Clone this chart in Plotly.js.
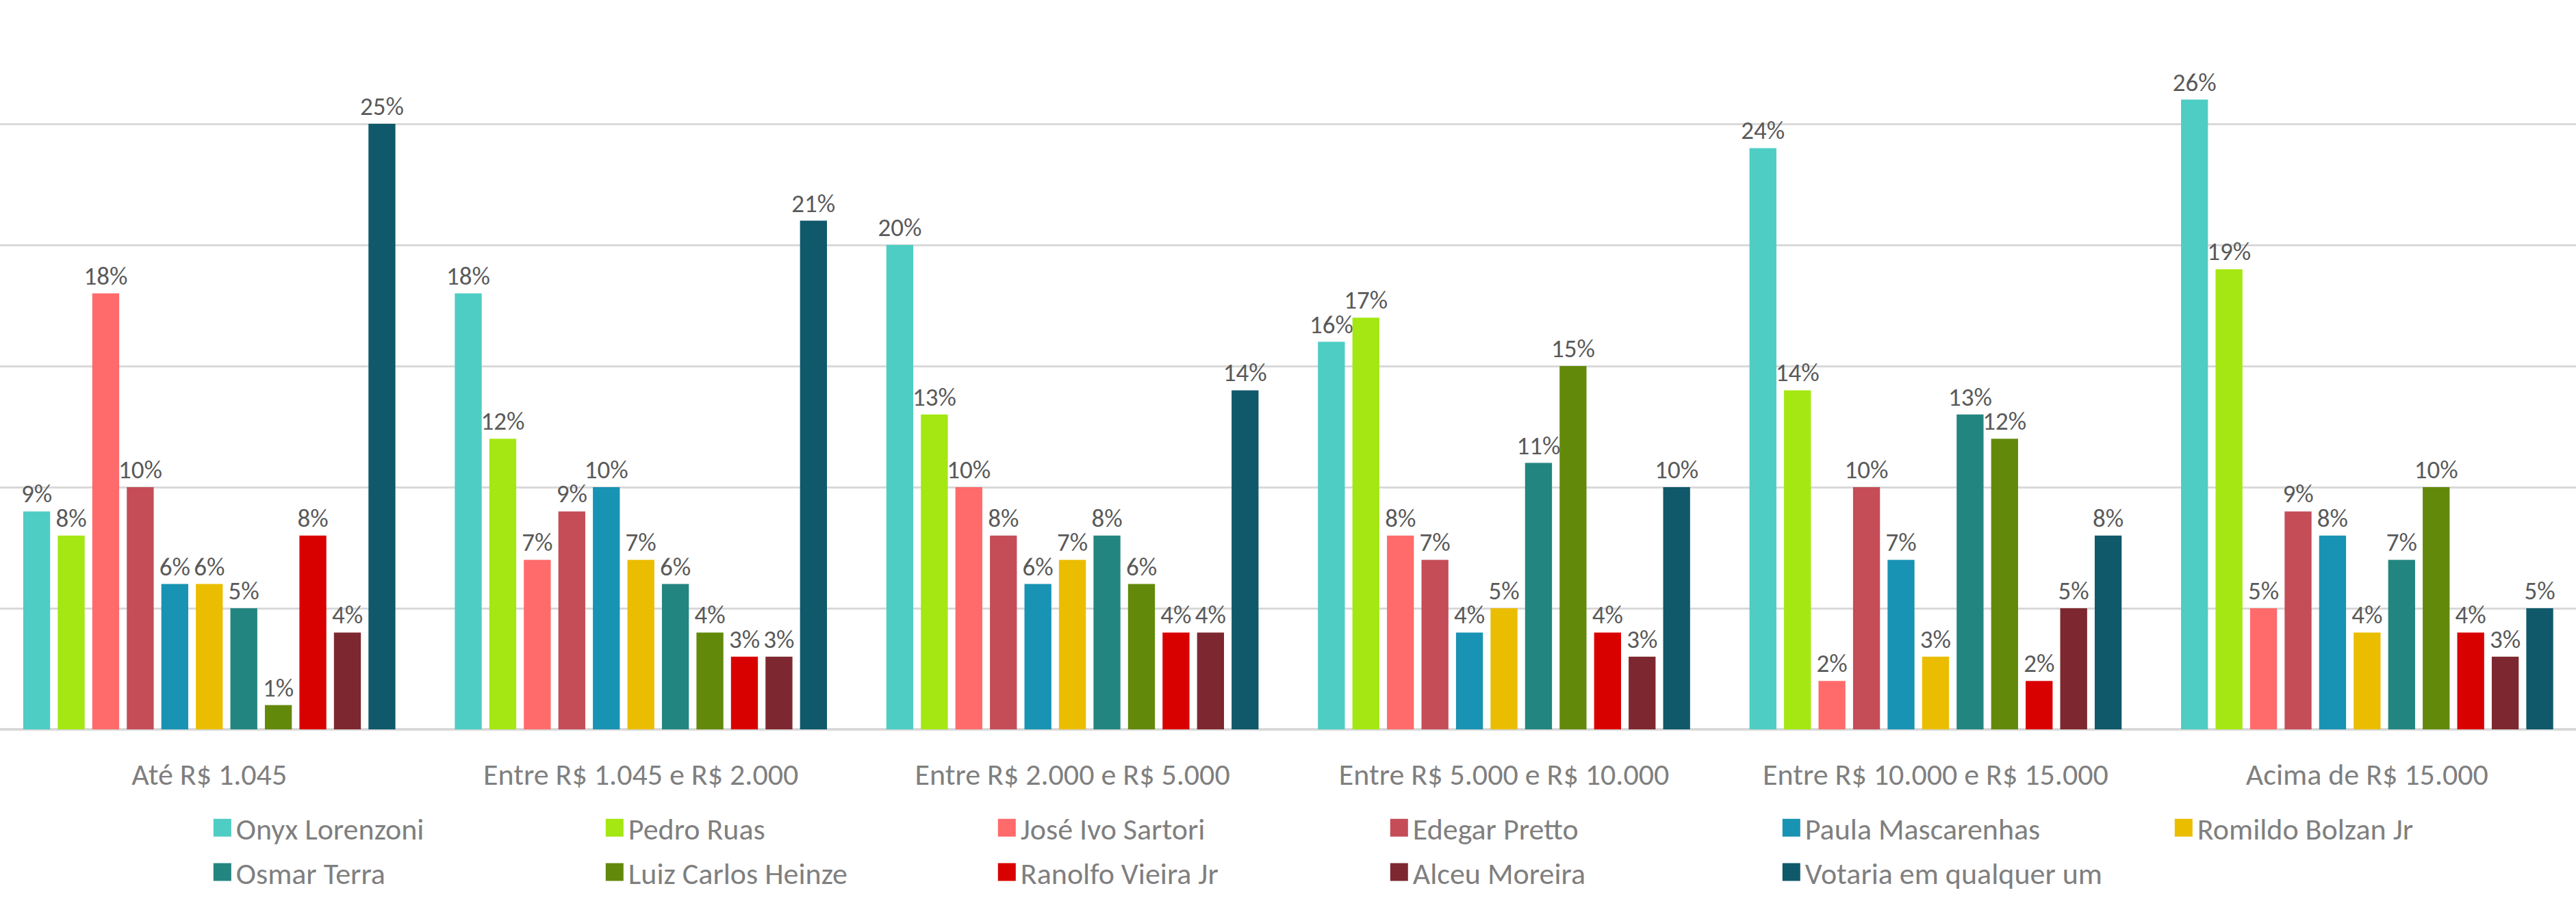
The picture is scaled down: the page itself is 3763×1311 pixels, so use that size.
<!DOCTYPE html>
<html>
<head>
<meta charset="utf-8">
<script src="https://cdn.plot.ly/plotly-3.0.1.min.js"></script>
<style>
html,body{margin:0;padding:0;background:#fff;}
#chart{width:3763px;height:1311px;}
</style>
</head>
<body>
<div id="chart"></div>
<script>
const categories = ["Até R$ 1.045", "Entre R$ 1.045 e R$ 2.000", "Entre R$ 2.000 e R$ 5.000", "Entre R$ 5.000 e R$ 10.000", "Entre R$ 10.000 e R$ 15.000", "Acima de R$ 15.000"];

const onyxLorenzoni     = [9, 18, 20, 16, 24, 26];
const pedroRuas         = [8, 12, 13, 17, 14, 19];
const joseIvoSartori    = [18, 7, 10, 8, 2, 5];
const edegarPretto      = [10, 9, 8, 7, 10, 9];
const paulaMascarenhas  = [6, 10, 6, 4, 7, 8];
const romildoBolzanJr   = [6, 7, 7, 5, 3, 4];
const osmarTerra        = [5, 6, 8, 11, 13, 7];
const luizCarlosHeinze  = [1, 4, 6, 15, 12, 10];
const ranolfoVieiraJr   = [8, 3, 4, 4, 2, 4];
const alceuMoreira      = [4, 3, 4, 3, 5, 3];
const votariaQualquer   = [25, 21, 14, 10, 8, 5];

const seriesNames = ["Onyx Lorenzoni", "Pedro Ruas", "José Ivo Sartori", "Edegar Pretto", "Paula Mascarenhas", "Romildo Bolzan Jr", "Osmar Terra", "Luiz Carlos Heinze", "Ranolfo Vieira Jr", "Alceu Moreira", "Votaria em qualquer um"];
const seriesValues = [onyxLorenzoni, pedroRuas, joseIvoSartori, edegarPretto, paulaMascarenhas, romildoBolzanJr, osmarTerra, luizCarlosHeinze, ranolfoVieiraJr, alceuMoreira, votariaQualquer];
const seriesColors = ["#4ECDC4", "#A4E712", "#FF6B6B", "#C44D58", "#1893B3", "#EBBD00", "#238580", "#63890B", "#D90000", "#7D2830", "#0F596B"];

const FONT = "Carlito, Calibri, Lato, sans-serif";

const traces = seriesNames.map((name, i) => ({
  type: "bar",
  name: name,
  x: categories,
  y: seriesValues[i].map(v => v / 100),
  marker: {color: seriesColors[i]},
  text: seriesValues[i].map(v => v + "%"),
  textposition: "outside",
  constraintext: "none",
  cliponaxis: false,
  textfont: {family: FONT, size: 37, color: "#595959"},
  hoverinfo: "name+y",
  legend: i < 6 ? "legend" : "legend2"
}));

const legendCommon = {
  orientation: "h",
  xanchor: "left",
  yanchor: "middle",
  yref: "container",
  entrywidth: 528,
  entrywidthmode: "pixels",
  traceorder: "normal",
  font: {family: FONT, size: 44, color: "#7F7F7F"},
  bgcolor: "rgba(0,0,0,0)"
};

const layout = {
  width: 3763,
  height: 1311,
  margin: {l: 0, r: 0, t: 4, b: 245},
  paper_bgcolor: "#ffffff",
  plot_bgcolor: "#ffffff",
  barmode: "group",
  bargap: 0.12,
  bargroupgap: 0.22,
  showlegend: true,
  font: {family: FONT, size: 44, color: "#7F7F7F"},
  xaxis: {
    type: "category",
    range: [-0.485, 5.484],
    showgrid: false,
    showline: false,
    ticks: "",
    ticklabelstandoff: 36,
    tickfont: {family: FONT, size: 44, color: "#7F7F7F"}
  },
  yaxis: {
    range: [0, 0.30],
    dtick: 0.05,
    showticklabels: false,
    showgrid: true,
    gridcolor: "#D9D9D9",
    gridwidth: 3,
    zeroline: true,
    zerolinecolor: "#D9D9D9",
    zerolinewidth: 4,
    showline: false,
    ticks: ""
  },
  legend: Object.assign({}, legendCommon, {x: 0.081, y: 0.0770}),
  legend2: Object.assign({}, legendCommon, {x: 0.081, y: 0.0275})
};

const gd = document.getElementById("chart");
function bigSwatches() {
  gd.querySelectorAll("g.legendpoints path").forEach(p => {
    p.setAttribute("d", "M13,13H-13V-13H13Z");
  });
}
Plotly.newPlot(gd, traces, layout, {displayModeBar: false, staticPlot: true}).then(() => {
  bigSwatches();
  gd.on("plotly_afterplot", bigSwatches);
});
</script>
</body>
</html>
